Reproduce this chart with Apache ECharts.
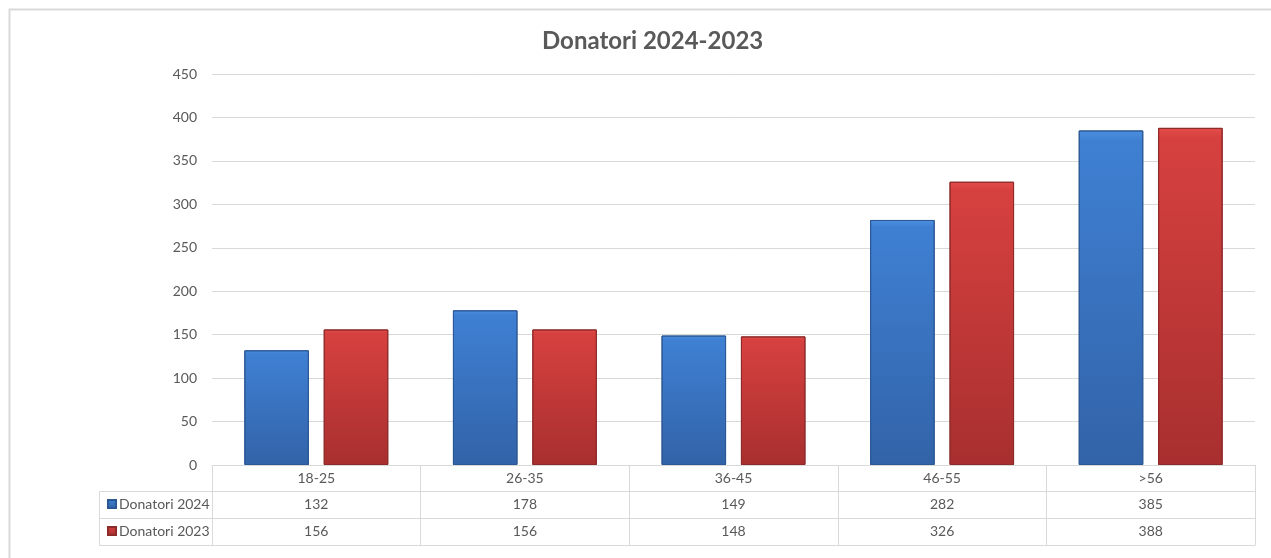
<!DOCTYPE html>
<html>
<head>
<meta charset="utf-8">
<script src="https://cdn.jsdelivr.net/npm/echarts@6/dist/echarts.min.js"></script>
<style>
    html, body { margin: 0; padding: 0; background: #fff; }
    #chart { width: 1271px; height: 558px; }
</style>
</head>
<body>
<div id="chart"></div>
<script>
// data
const categories = ['18-25', '26-35', '36-45', '46-55', '>56']
const donatori2024 = [132, 178, 149, 282, 385]
const donatori2023 = [156, 156, 148, 326, 388]
const seriesNames = ['Donatori 2024', 'Donatori 2023']
const yTicks = { min: 0, max: 450, interval: 50 }

const chart = echarts.init(document.getElementById('chart'))

const textColor = '#595959'
const lineColor = '#d9d9d9'
const font = 'Lato, "Open Sans", sans-serif'

const blueFill = new echarts.graphic.LinearGradient(0, 0, 0, 1, [
    { offset: 0, color: '#4c90e0' },
    { offset: 0.03, color: '#3f80d3' },
    { offset: 1, color: '#3263a8' }
])
const redFill = new echarts.graphic.LinearGradient(0, 0, 0, 1, [
    { offset: 0, color: '#e24c49' },
    { offset: 0.03, color: '#d6413f' },
    { offset: 1, color: '#a82f2f' }
])

// one x axis per table row, stacked with offsets
const tableAxis = (offset, values, showTick) => ({
    type: 'category',
    data: categories,
    position: 'bottom',
    offset: offset,
    axisLine: { show: true, lineStyle: { color: lineColor, width: 1 } },
    axisTick: { show: showTick, length: 80, lineStyle: { color: lineColor } },
    axisLabel: {
        show: values !== null,
        margin: 6,
        color: textColor,
        fontSize: 14,
        fontFamily: font,
        formatter: (v, i) => values ? String(values[i]) : ''
    }
})

const option = {
    backgroundColor: '#fff',
    title: {
        text: 'Donatori 2024-2023',
        left: 537,
        top: 24,
        textStyle: { color: textColor, fontSize: 24, fontWeight: 'bold', fontFamily: font }
    },
    legend: {
        data: seriesNames,
        orient: 'vertical',
        left: 102,
        top: 492,
        itemGap: 13,
        itemWidth: 8,
        itemHeight: 8,
        icon: 'rect',
        textStyle: { color: textColor, fontSize: 14, fontFamily: font, padding: [0, 0, 0, -2] },
        selectedMode: false
    },
    grid: { left: 212, right: 16, top: 74, bottom: 93 },
    xAxis: [
        tableAxis(0, categories, true),
        tableAxis(26, donatori2024, false),
        tableAxis(53, donatori2023, false),
        tableAxis(80, null, false)
    ],
    yAxis: {
        type: 'value',
        min: yTicks.min,
        max: yTicks.max,
        interval: yTicks.interval,
        axisLine: { show: false },
        axisTick: { show: false },
        axisLabel: { color: textColor, fontSize: 14, fontFamily: font, margin: 15 },
        splitLine: { lineStyle: { color: lineColor } }
    },
    series: [
        {
            name: seriesNames[0],
            type: 'bar',
            data: donatori2024,
            barGap: '23%',
            barCategoryGap: '31%',
            itemStyle: { color: blueFill, borderColor: '#2b5794', borderWidth: 1 }
        },
        {
            name: seriesNames[1],
            type: 'bar',
            data: donatori2023,
            itemStyle: { color: redFill, borderColor: '#8e2a2a', borderWidth: 1 }
        }
    ],
    graphic: [
        // outer frame (top and left only)
        {
            type: 'polyline',
            shape: { points: [[9.5, 558], [9.5, 9.5], [1271, 9.5]] },
            style: { stroke: lineColor, lineWidth: 2, fill: null }
        },
        // legend column of the data table
        {
            type: 'polyline',
            shape: { points: [[212, 491.5], [99.5, 491.5], [99.5, 545.5], [212, 545.5]] },
            style: { stroke: lineColor, lineWidth: 1, fill: null }
        },
        {
            type: 'line',
            shape: { x1: 99.5, y1: 518.5, x2: 212, y2: 518.5 },
            style: { stroke: lineColor, lineWidth: 1 }
        }
    ]
}

chart.setOption(option)
</script>
</body>
</html>
